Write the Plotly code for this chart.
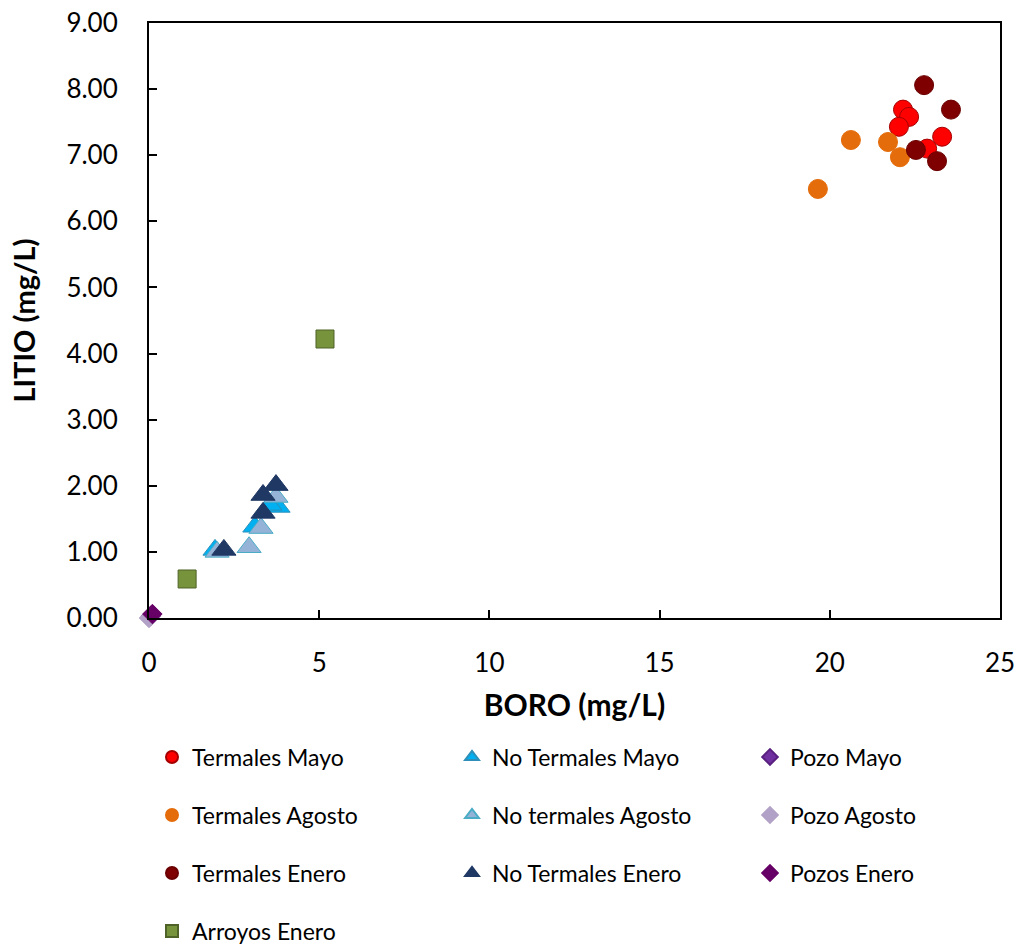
import plotly.graph_objects as go

# Data (BORO mg/L, LITIO mg/L)
termales_mayo_x = [22.15, 22.33, 22.03, 23.30, 22.86]
termales_mayo_y = [7.69, 7.58, 7.43, 7.28, 7.10]

no_termales_mayo_x = [3.79, 3.55, 3.11, 1.94]
no_termales_mayo_y = [1.68, 1.71, 1.38, 1.03]

pozo_mayo_x = [0.05]
pozo_mayo_y = [0.03]

termales_agosto_x = [20.62, 21.71, 22.06, 19.65]
termales_agosto_y = [7.23, 7.20, 6.97, 6.49]

no_termales_agosto_x = [3.73, 3.29, 2.94, 2.00]
no_termales_agosto_y = [1.83, 1.36, 1.07, 1.00]

pozo_agosto_x = [0.0]
pozo_agosto_y = [0.0]

termales_enero_x = [22.77, 23.56, 22.53, 23.15]
termales_enero_y = [8.06, 7.69, 7.08, 6.91]

no_termales_enero_x = [3.73, 3.35, 3.35, 2.20]
no_termales_enero_y = [2.01, 1.86, 1.59, 1.03]

pozos_enero_x = [0.10]
pozos_enero_y = [0.06]

arroyos_enero_x = [1.12, 5.17]
arroyos_enero_y = [0.59, 4.22]

FONT = "Lato"

# name, x, y, symbol, size, fill, outline, legend row, legend column
series = [
    ("Termales Mayo", termales_mayo_x, termales_mayo_y, "circle", 19, "#FF0000", "#A50000", 0, 0),
    ("No Termales Mayo", no_termales_mayo_x, no_termales_mayo_y, "triangle-up", 21, "#00B0F0", "#2E8FB8", 0, 1),
    ("Pozo Mayo", pozo_mayo_x, pozo_mayo_y, "diamond", 15, "#7030A0", "#5A2080", 0, 2),
    ("Termales Agosto", termales_agosto_x, termales_agosto_y, "circle", 19, "#E46C0A", "#E46C0A", 1, 0),
    ("No termales Agosto", no_termales_agosto_x, no_termales_agosto_y, "triangle-up", 21, "#95B3D7", "#4BACC6", 1, 1),
    ("Pozo Agosto", pozo_agosto_x, pozo_agosto_y, "diamond", 15, "#B3A2C7", "#B3A2C7", 1, 2),
    ("Termales Enero", termales_enero_x, termales_enero_y, "circle", 19, "#7F0000", "#6A0000", 2, 0),
    ("No Termales Enero", no_termales_enero_x, no_termales_enero_y, "triangle-up", 21, "#1F3864", "#1F3864", 2, 1),
    ("Pozos Enero", pozos_enero_x, pozos_enero_y, "diamond", 15, "#660066", "#660066", 2, 2),
    ("Arroyos Enero", arroyos_enero_x, arroyos_enero_y, "square", 18, "#77933C", "#4F6228", 3, 0),
]

W, H = 1019, 945
ML, MR, MT, MB = 149, 19, 23, 327
plot_w = W - ML - MR
plot_h = H - MT - MB

row_px = [757, 815, 873, 931]
col_px = [152, 452, 750]

fig = go.Figure()
legends = {}
for i, (name, xs, ys, sym, size, fill, line, r, c) in enumerate(series):
    key = "legend" if i == 0 else f"legend{i + 1}"
    fig.add_trace(go.Scatter(
        x=xs, y=ys, mode="markers", name=name, legend=key,
        cliponaxis=False,
        marker=dict(symbol=sym, size=size, color=fill,
                    line=dict(color=line, width=1)),
    ))
    legends[key] = dict(
        orientation="h",
        x=(col_px[c] - ML) / plot_w, xanchor="left",
        y=(H - MB - row_px[r]) / plot_h, yanchor="middle",
        font=dict(family=FONT, size=23, color="black"),
        bgcolor="rgba(0,0,0,0)", itemsizing="constant",
    )

axis_common = dict(
    showline=True, linecolor="black", linewidth=2, mirror=True,
    ticks="inside", ticklen=8, tickwidth=1.5, tickcolor="black",
    showgrid=False, zeroline=False,
    tickfont=dict(family=FONT, size=26, color="black"),
)

fig.update_xaxes(range=[0, 25], dtick=5, tick0=0, ticklabelstandoff=21,
                 title=dict(text="<b>BORO (mg/L)</b>", font=dict(family=FONT, size=30, color="black"), standoff=18),
                 **axis_common)
fig.update_yaxes(range=[0, 9], dtick=1, tick0=0, tickformat=".2f", ticklabelstandoff=24,
                 title=dict(text="<b>LITIO (mg/L)</b>", font=dict(family=FONT, size=29, color="black"), standoff=22),
                 **axis_common)

fig.update_layout(
    width=W, height=H,
    margin=dict(l=ML, r=MR, t=MT, b=MB, autoexpand=False),
    paper_bgcolor="white", plot_bgcolor="white",
    showlegend=True,
    **legends,
)

fig.write_html("out.html")
